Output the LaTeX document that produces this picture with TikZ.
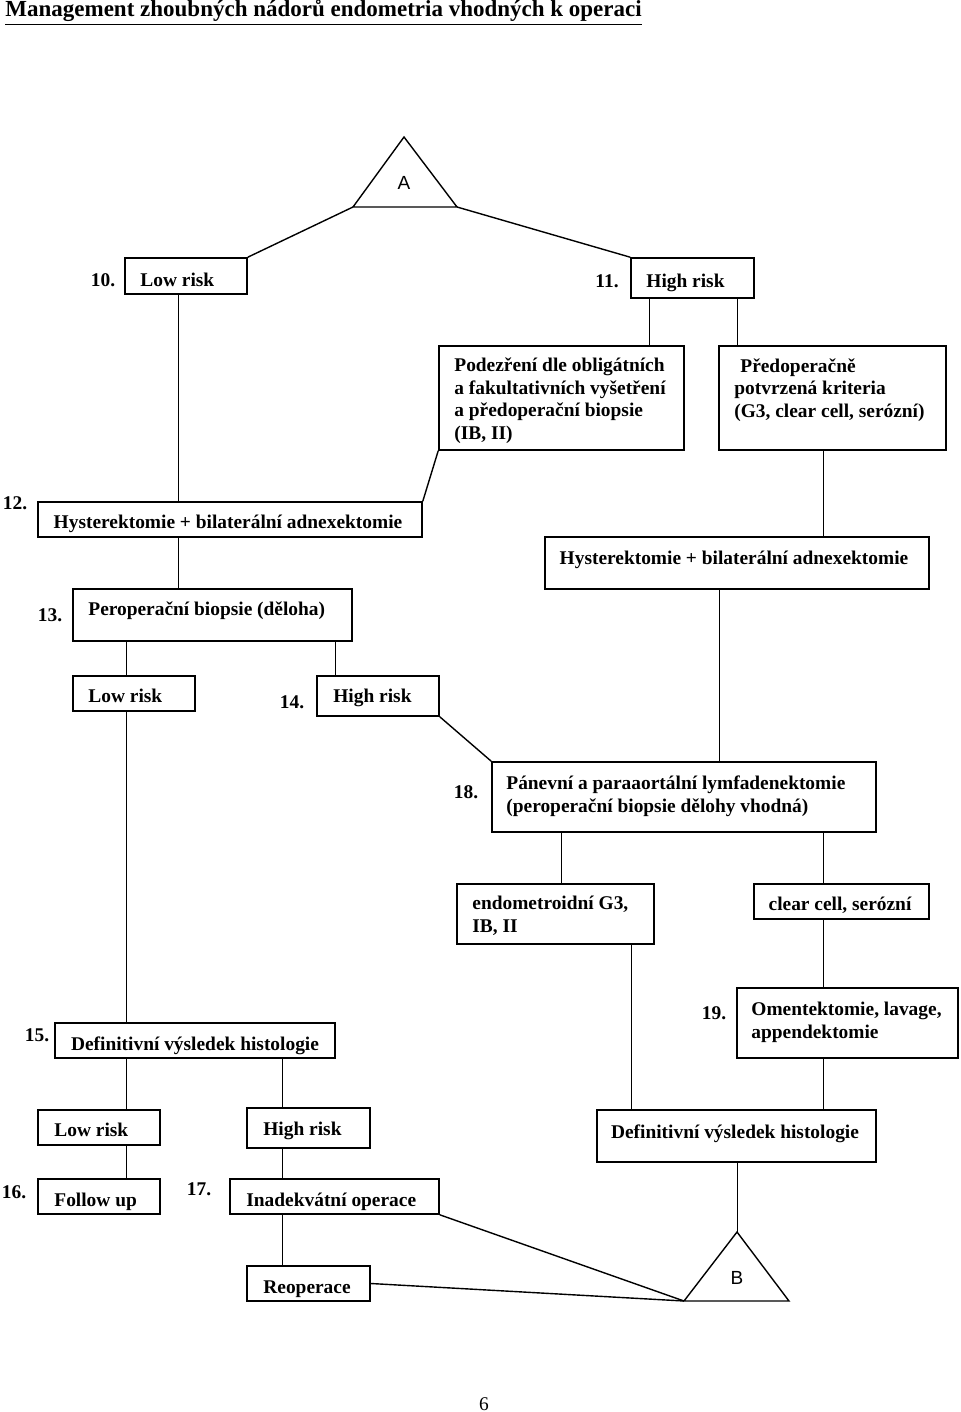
\documentclass[tikz,border=0pt]{standalone}
\usepackage{fontspec}
\setmainfont{Liberation Serif}
\newfontfamily\arialfont{Liberation Sans}
\usepackage{tikz}
\usetikzlibrary{fit}

\begin{document}
\begin{tikzpicture}[x=0.5pt, y=-0.5pt,
		box/.style={draw, line width=0.8pt, inner sep=0pt},
		lbl/.style={font=\bfseries\fontsize{9.7}{11.2}\selectfont, inner sep=0pt, anchor=base west, align=left},
		num/.style={font=\bfseries\fontsize{9.7}{11.2}\selectfont, inner sep=0pt},
		edge/.style={line width=0.5pt},
		slant/.style={line width=0.7pt}]
			\useasboundingbox (0,0) rectangle (960,1412);
			\node[anchor=base west, inner sep=0pt, font=\bfseries\fontsize{11.5}{13}\selectfont] (title) at (5,17) {\underline{Management zhoubných nádorů endometria vhodných k operaci}};
			% triangle A
			\coordinate (Atop) at (404,137);
			\coordinate (Aleft) at (353,207);
			\coordinate (Aright) at (457,207);
			\draw[slant] (Atop) -- (Aleft) -- (Aright) -- cycle;
			\node[font=\arialfont\fontsize{9.5}{11}\selectfont] (A) at (404,183) {A};
			% boxes
			\node[box, fit={(125,258) (247,294)}] (low10) {};
			\node[box, fit={(631,258) (754,298)}] (high11) {};
			\node[box, fit={(439,346) (684,450)}] (pod) {};
			\node[box, fit={(719,346) (946,450)}] (pred) {};
			\node[box, fit={(38,502) (422,537)}] (hyst12) {};
			\node[box, fit={(545,537) (929,589)}] (hystR) {};
			\node[box, fit={(73,589) (352,641)}] (bio13) {};
			\node[box, fit={(73,676) (195,711)}] (low13) {};
			\node[box, fit={(317,676) (439,716)}] (high14) {};
			\node[box, fit={(492,762) (876,832)}] (lym18) {};
			\node[box, fit={(457,884) (654,944)}] (endo) {};
			\node[box, fit={(754,884) (929,919)}] (clear) {};
			\node[box, fit={(737,988) (958,1058)}] (oment19) {};
			\node[box, fit={(55,1023) (335,1058)}] (def15) {};
			\node[box, fit={(597,1110) (876,1162)}] (defR) {};
			\node[box, fit={(38,1110) (160,1145)}] (low15) {};
			\node[box, fit={(247,1108) (370,1148)}] (high15) {};
			\node[box, fit={(38,1179) (160,1214)}] (follow16) {};
			\node[box, fit={(230,1179) (439,1214)}] (inad17) {};
			\node[box, fit={(247,1266) (370,1301)}] (reop) {};
			% texts (multi-line: base is the last line)
			\node[lbl] (low10t) at (140,286) {Low risk};
			\node[lbl] (high11t) at (646,287) {High risk};
			\node[lbl] (podt) at (454,439) {Podezření dle obligátních\\a fakultativních vyšetření\\a předoperační biopsie\\(IB, II)};
			\node[lbl] (predt) at (734,417) {\hspace{3pt}Předoperačně\\potvrzená kriteria\\(G3, clear cell, serózní)};
			\node[lbl, anchor=base] (hyst12t) at (228,528) {Hysterektomie + bilaterální adnexektomie};
			\node[lbl, anchor=base] (hystRt) at (734,564) {Hysterektomie + bilaterální adnexektomie};
			\node[lbl] (bio13t) at (88,615) {Peroperační biopsie (děloha)};
			\node[lbl] (low13t) at (88,702) {Low risk};
			\node[lbl] (high14t) at (333,702) {High risk};
			\node[lbl] (lym18t) at (506,812) {Pánevní a paraaortální lymfadenektomie\\(peroperační biopsie dělohy vhodná)};
			\node[lbl] (endot) at (472,932) {endometroidní G3,\\IB, II};
			\node[lbl, anchor=base] (cleart) at (840,910) {clear cell, serózní};
			\node[lbl] (oment19t) at (751,1038) {Omentektomie, lavage,\\appendektomie};
			\node[lbl, anchor=base] (def15t) at (195,1050) {Definitivní výsledek histologie};
			\node[lbl, anchor=base] (defRt) at (735,1138) {Definitivní výsledek histologie};
			\node[lbl] (low15t) at (54,1136) {Low risk};
			\node[lbl] (high15t) at (263,1135) {High risk};
			\node[lbl] (follow16t) at (54,1206) {Follow up};
			\node[lbl] (inad17t) at (246,1206) {Inadekvátní operace};
			\node[lbl] (reopt) at (263,1293) {Reoperace};
			% numbers
			\node[num] (n10) at (103,280) {10.};
			\node[num] (n11) at (607,281) {11.};
			\node[num] (n12) at (15,503) {12.};
			\node[num] (n13) at (50,615) {13.};
			\node[num] (n14) at (292,702) {14.};
			\node[num] (n18) at (466,792) {18.};
			\node[num] (n15) at (37,1035) {15.};
			\node[num] (n19) at (714,1013) {19.};
			\node[num] (n16) at (14,1192) {16.};
			\node[num] (n17) at (199,1189) {17.};
			% triangle B
			\coordinate (Btop) at (737,1232);
			\coordinate (Bleft) at (684,1301);
			\coordinate (Bright) at (789,1301);
			\draw[slant] (Btop) -- (Bleft) -- (Bright) -- cycle;
			\node[font=\arialfont\fontsize{9.5}{11}\selectfont] (B) at (737,1278) {B};
			% connectors
			\draw[slant] (Aleft) -- (low10.north east);
			\draw[slant] (Aright) -- (high11.north west);
			\draw[edge] (178,0 |- low10.south) -- (178,0 |- hyst12.north);
			\draw[edge] (649,0 |- high11.south) -- (649,0 |- pod.north);
			\draw[edge] (737,0 |- high11.south) -- (737,0 |- pred.north);
			\draw[slant] (pod.south west) -- (hyst12.north east);
			\draw[edge] (823,0 |- pred.south) -- (823,0 |- hystR.north);
			\draw[edge] (178,0 |- hyst12.south) -- (178,0 |- bio13.north);
			\draw[edge] (719,0 |- hystR.south) -- (719,0 |- lym18.north);
			\draw[edge] (126,0 |- bio13.south) -- (126,0 |- low13.north);
			\draw[edge] (335,0 |- bio13.south) -- (335,0 |- high14.north);
			\draw[slant] (high14.south east) -- (lym18.north west);
			\draw[edge] (126,0 |- low13.south) -- (126,0 |- def15.north);
			\draw[edge] (561,0 |- lym18.south) -- (561,0 |- endo.north);
			\draw[edge] (823,0 |- lym18.south) -- (823,0 |- clear.north);
			\draw[edge] (631,0 |- endo.south) -- (631,0 |- defR.north);
			\draw[edge] (823,0 |- clear.south) -- (823,0 |- oment19.north);
			\draw[edge] (823,0 |- oment19.south) -- (823,0 |- defR.north);
			\draw[edge] (126,0 |- def15.south) -- (126,0 |- low15.north);
			\draw[edge] (282,0 |- def15.south) -- (282,0 |- high15.north);
			\draw[edge] (126,0 |- low15.south) -- (126,0 |- follow16.north);
			\draw[edge] (282,0 |- high15.south) -- (282,0 |- inad17.north);
			\draw[edge] (282,0 |- inad17.south) -- (282,0 |- reop.north);
			\draw[slant] (inad17.south east) -- (Bleft);
			\draw[slant] (reop.east) -- (Bleft);
			\draw[edge] (737,0 |- defR.south) -- (Btop);
			\node[anchor=base, inner sep=0pt, font=\fontsize{9.7}{11}\selectfont] (page) at (484,1410) {6};
		\end{tikzpicture}
\end{document}
